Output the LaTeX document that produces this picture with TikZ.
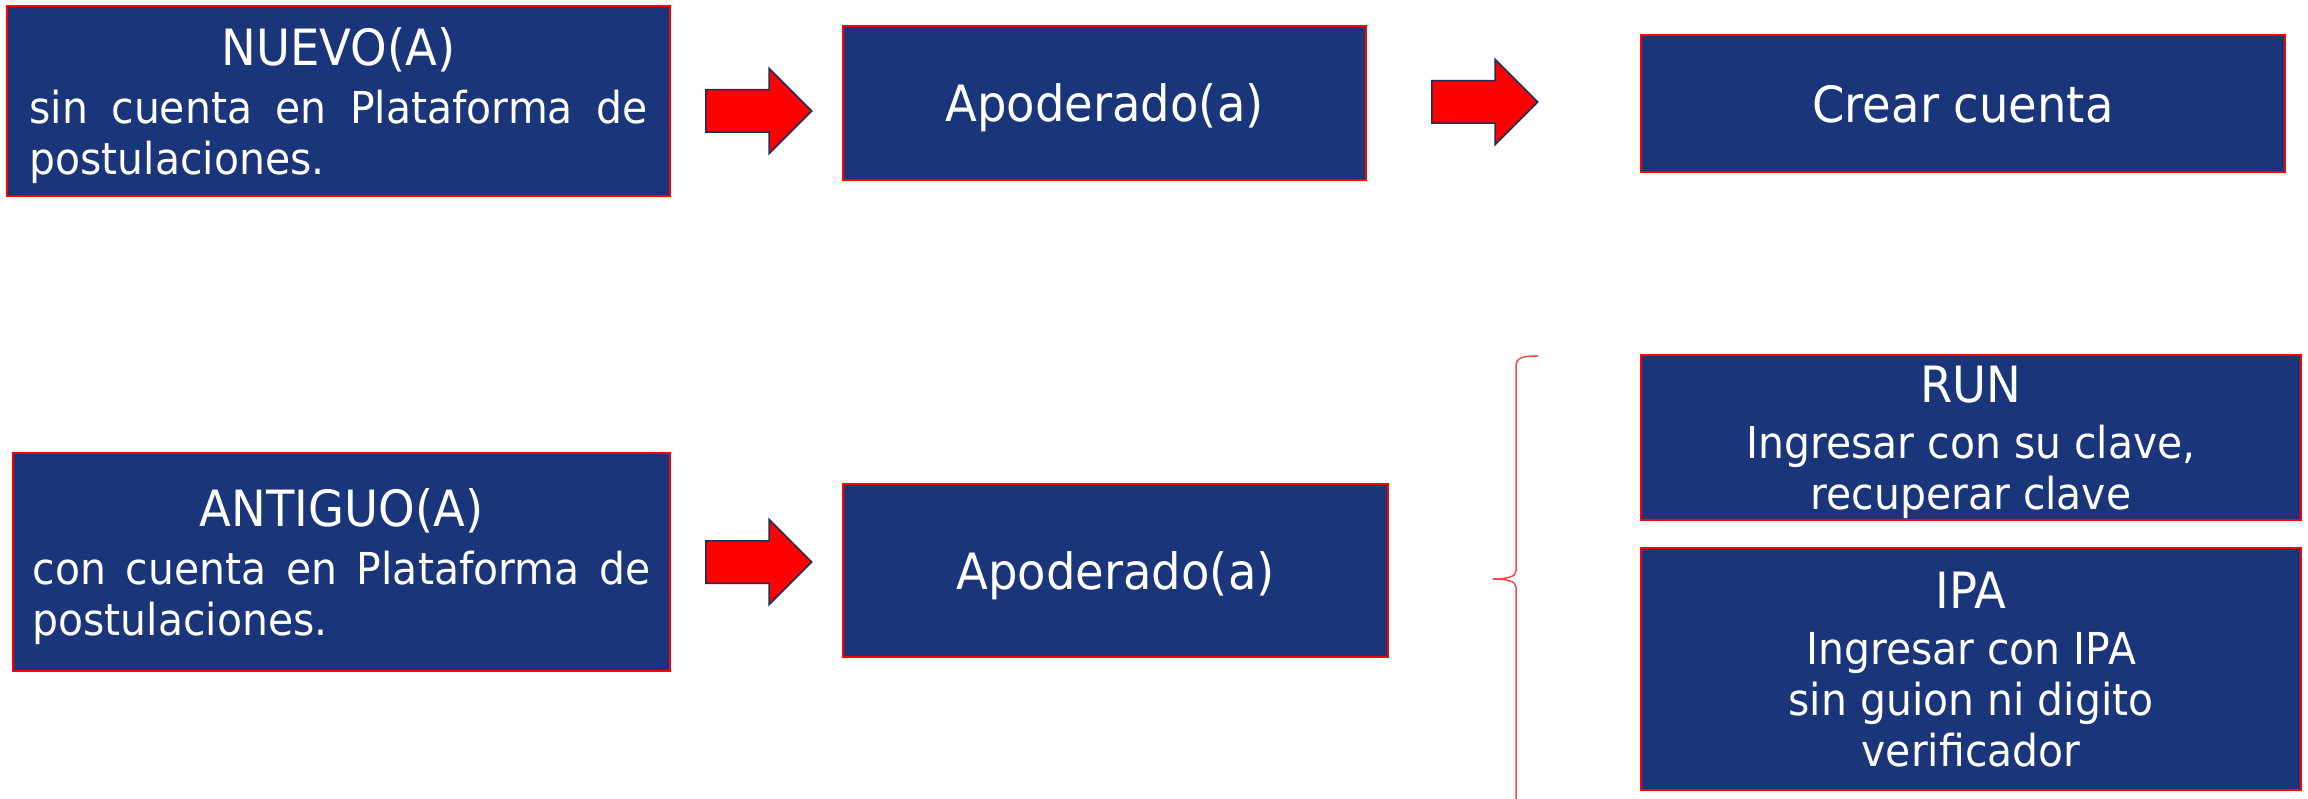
\documentclass[tikz,border=0pt]{standalone}
\usepackage{fontspec}
\setmainfont{DejaVu Sans}[FakeStretch=0.93]
\usetikzlibrary{shapes.arrows}
\definecolor{boxblue}{RGB}{26,53,122}
\definecolor{arrowline}{RGB}{23,50,90}
\definecolor{bracered}{RGB}{255,70,70}
\newcommand{\boxtitle}{\fontsize{50}{57}\selectfont}
\tikzset{
	box/.style={draw=red, line width=1.5pt, fill=boxblue, text=white, inner sep=0pt, text depth=0pt, align=center, font=\fontsize{44}{51}\selectfont},
	widebox/.style={box, text width=618pt, align=justify, text depth=109pt},
	fatarrow/.style={single arrow, single arrow head extend=21.5pt, single arrow tip angle=90, minimum height=106pt, inner xsep=0pt, inner ysep=20.5pt, fill=red, draw=arrowline, line width=1.5pt, anchor=tail}
}
\begin{document}
\begin{tikzpicture}[x=1pt,y=-1pt]
		\useasboundingbox (0,0) rectangle (2308,799);
		%
		% fila de arriba
		\node[widebox, minimum width=663, minimum height=190] (nuevo) at (338.5,101)
			{{\boxtitle\centering NUEVO(A)\par}\vspace{7pt}sin cuenta en Plataforma de\linebreak postulaciones.};
		\node[box, minimum width=523, minimum height=154] (apoderadoA) at (1104.5,103) {\boxtitle Apoderado(a)};
		\node[box, minimum width=644, minimum height=137] (crear) at (1963,103.5) {\boxtitle Crear cuenta};
		%
		\node[fatarrow] (flechaA) at (705,111) {};
		\node[fatarrow] (flechaB) at (1431,102) {};
		%
		% fila de abajo
		\node[widebox, minimum width=657, minimum height=218] (antiguo) at (341.5,562)
			{{\boxtitle\centering ANTIGUO(A)\par}\vspace{7pt}con cuenta en Plataforma de\linebreak postulaciones.};
		\node[box, minimum width=545, minimum height=173] (apoderadoB) at (1115.5,570.5) {\boxtitle Apoderado(a)};
		\node[fatarrow] (flechaC) at (705,562) {};
		%
		\node[box, minimum width=660, minimum height=165] (run) at (1971,437.5)
			{{\boxtitle RUN}\\[5pt]Ingresar con su clave,\\recuperar clave};
		\node[box, minimum width=660, minimum height=242] (ipa) at (1971,669)
			{{\boxtitle IPA}\\[5pt]Ingresar con IPA\\sin guion ni digito\\verificador};
		%
		% llave
		\draw[bracered, line width=1.5pt] (1538,356) .. controls (1524,356) and (1516,357) .. (1516,366) -- (1516,571)
			.. controls (1516,577) and (1506,579) .. (1493,579) .. controls (1506,579) and (1516,581) .. (1516,587) -- (1516,800);
	\end{tikzpicture}
\end{document}
